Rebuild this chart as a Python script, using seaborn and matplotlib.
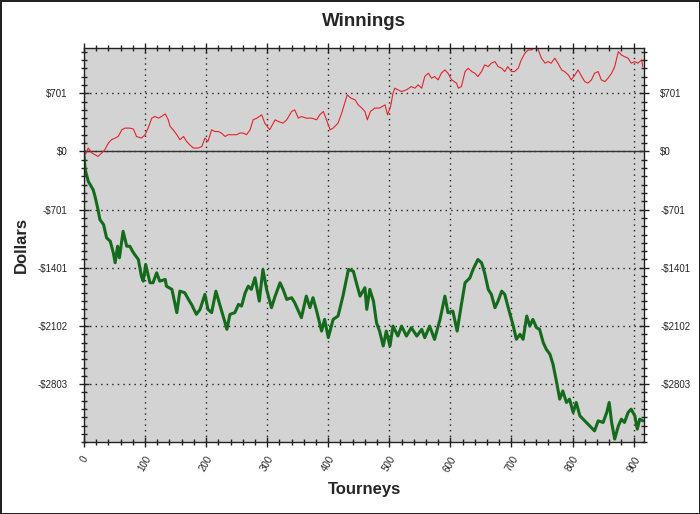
import numpy as np
import pandas as pd
import matplotlib
matplotlib.use('Agg')
import matplotlib.pyplot as plt
from matplotlib.ticker import AutoMinorLocator, MultipleLocator
import seaborn as sns

# ── Data ─────────────────────────────────────────────────────────────────────
red_t = [0, 2, 7, 13, 18, 23, 29, 34, 40, 45, 51, 56, 62, 67, 75, 81, 86, 94, 100, 105,
         111, 116, 122, 127, 133, 138, 141, 146, 152, 157, 163, 168, 173, 179, 187, 193, 198, 203, 209, 214,
         220, 225, 231, 236, 244, 250, 255, 261, 266, 272, 277, 283, 291, 296, 302, 304, 313, 318, 326, 332,
         340, 345, 351, 356, 364, 373, 381, 386, 392, 397, 403, 408, 416, 422, 427, 431, 437, 444, 449, 455,
         460, 464, 469, 476, 484, 493, 497, 502, 506, 509, 514, 520, 528, 536, 542, 547, 553, 558, 564, 569,
         574, 580, 585, 591, 596, 602, 610, 613, 618, 624, 629, 635, 640, 645, 651, 656, 662, 667, 673, 678,
         684, 689, 694, 700, 705, 711, 716, 722, 727, 733, 738, 744, 749, 755, 760, 765, 771, 776, 782, 787,
         793, 798, 804, 809, 815, 820, 825, 831, 836, 842, 847, 853, 858, 864, 869, 875, 880, 885, 891, 896,
         902, 907, 913, 915]
red_d = [0, -40, 41, -19, -40, -60, -19, 20, 101, 141, 161, 180, 261, 281, 281, 269, 180, 161, 201, 281,
         401, 421, 401, 421, 453, 381, 301, 261, 201, 141, 180, 120, 81, 41, 41, 60, 161, 120, 261, 240,
         240, 221, 180, 201, 201, 201, 221, 221, 201, 261, 381, 401, 441, 341, 281, 261, 381, 361, 341, 381,
         481, 501, 401, 421, 401, 401, 381, 441, 481, 381, 261, 281, 341, 462, 582, 682, 642, 621, 561, 522,
         481, 381, 481, 522, 522, 561, 441, 541, 702, 762, 742, 721, 742, 781, 762, 802, 762, 902, 942, 882,
         902, 862, 942, 982, 942, 862, 822, 762, 781, 962, 1002, 962, 942, 902, 962, 1042, 1022, 1063, 1082, 1022,
         1002, 962, 1022, 962, 962, 1002, 1102, 1183, 1222, 1222, 1260, 1222, 1123, 1063, 1082, 1063, 1123, 1063, 982, 962,
         922, 862, 922, 982, 902, 841, 822, 862, 942, 962, 862, 841, 882, 942, 1022, 1202, 1162, 1142, 1123, 1063,
         1082, 1063, 1102, 1022]

green_t = [0, 2, 7, 15, 18, 23, 26, 32, 37, 43, 48, 51, 55, 58, 64, 70, 75, 81, 89, 94,
           97, 101, 108, 113, 119, 124, 133, 135, 144, 152, 157, 165, 171, 176, 184, 190, 198, 203, 209, 216,
           223, 231, 234, 239, 247, 253, 258, 264, 269, 274, 280, 287, 293, 299, 307, 313, 321, 326, 332, 340,
           345, 356, 364, 370, 375, 381, 389, 394, 400, 408, 416, 424, 433, 441, 446, 452, 460, 463, 468, 474,
           479, 484, 490, 495, 501, 506, 514, 520, 528, 536, 545, 553, 558, 566, 574, 583, 591, 596, 604, 611,
           618, 624, 632, 637, 645, 651, 656, 662, 667, 673, 678, 684, 689, 694, 703, 708, 714, 719, 725, 730,
           735, 741, 746, 752, 757, 763, 768, 774, 779, 784, 790, 795, 801, 806, 812, 820, 828, 836, 842, 850,
           856, 860, 864, 869, 875, 880, 885, 891, 896, 902, 906, 910, 915]
green_d = [-60, -220, -361, -461, -541, -701, -821, -881, -1041, -1082, -1221, -1341, -1142, -1281, -962, -1142, -1142, -1221, -1302, -1503,
           -1563, -1362, -1582, -1582, -1462, -1563, -1542, -1623, -1662, -1942, -1683, -1702, -1782, -1842, -1962, -1903, -1722, -1903, -1942, -1683,
           -1863, -2063, -2143, -1963, -1942, -1843, -1863, -1702, -1623, -1662, -1522, -1803, -1422, -1662, -1882, -1743, -1582, -1662, -1783, -1762,
           -1822, -2003, -1743, -1882, -1762, -1923, -2164, -2023, -2243, -2023, -1983, -1743, -1422, -1442, -1582, -1743, -1642, -1903, -1662, -1803,
           -2063, -2164, -2344, -2164, -2344, -2104, -2224, -2104, -2224, -2123, -2224, -2143, -2243, -2104, -2264, -2023, -1743, -1942, -1923, -2164,
           -1843, -1582, -1522, -1422, -1302, -1341, -1462, -1662, -1722, -1882, -1803, -1683, -1722, -1863, -2104, -2263, -2203, -2263, -1983, -2104,
           -2023, -2123, -2143, -2303, -2383, -2444, -2564, -2784, -2984, -2885, -3024, -2984, -3144, -3024, -3185, -3245, -3306, -3366, -3245, -3265,
           -3144, -3024, -3265, -3465, -3306, -3225, -3265, -3144, -3105, -3185, -3345, -3225, -3245]

y_ticks  = [700.75, 0, -700.75, -1401.5, -2102.25, -2803]
y_labels = ['$701', '$0', '-$701', '-$1401', '-$2102', '-$2803']

# ── Style ────────────────────────────────────────────────────────────────────
sns.set_style('ticks')
plt.rcParams['font.family'] = ['Liberation Sans', 'DejaVu Sans']

fig = plt.figure(figsize=(7, 5.14), dpi=100, facecolor='white',
                 edgecolor='#222222', linewidth=2)
ax = fig.add_axes([0.12, 0.1395, 0.8, 0.7665])
ax.set_facecolor('#d3d3d3')

red_df   = pd.DataFrame({'Tourney': red_t, 'Dollars': red_d})
green_df = pd.DataFrame({'Tourney': green_t, 'Dollars': green_d})

ax.axhline(0, color='#333333', linewidth=1, zorder=1.5)
sns.lineplot(data=red_df, x='Tourney', y='Dollars', color='#e3242b',
             linewidth=0.8, sort=False, ax=ax)
sns.lineplot(data=green_df, x='Tourney', y='Dollars', color='#136b1b',
             linewidth=2.2, sort=False, ax=ax)

# ── Axes ─────────────────────────────────────────────────────────────────────
ax.set_xlim(0, 917)
ax.set_ylim(-3503.75, 1242)
ax.set_yticks(y_ticks)
ax.set_yticklabels(y_labels)
ax.yaxis.set_minor_locator(AutoMinorLocator(7))
ax.xaxis.set_major_locator(MultipleLocator(100))
ax.xaxis.set_minor_locator(AutoMinorLocator(5))

ax.tick_params(which='both', direction='inout', top=True, right=True,
               labelright=True, color='#222222', width=1)
ax.tick_params(which='major', length=7.5)
ax.tick_params(which='minor', length=4.5)
ax.tick_params(axis='y', labelsize=7, pad=8)
ax.tick_params(axis='x', labelsize=7, pad=5)
plt.setp(ax.get_xticklabels(), rotation=60, ha='center')

for s in ax.spines.values():
    s.set_color('#222222')
    s.set_linewidth(1)

ax.grid(True, which='major', linestyle=(0, (1, 3)), color='#222222', linewidth=1)

ax.set_title('Winnings', fontsize=13.5, fontweight='bold', pad=0, y=1.067, va='center')
ax.set_xlabel('Tourneys', fontsize=12, fontweight='bold')
ax.set_ylabel('Dollars', fontsize=12, fontweight='bold')
ax.xaxis.set_label_coords(0.5, -0.121)
ax.xaxis.label.set_va('center')
ax.yaxis.set_label_coords(-0.111, 0.5)
ax.yaxis.label.set_va('center')

plt.savefig('out.png', dpi=100)
plt.close()
